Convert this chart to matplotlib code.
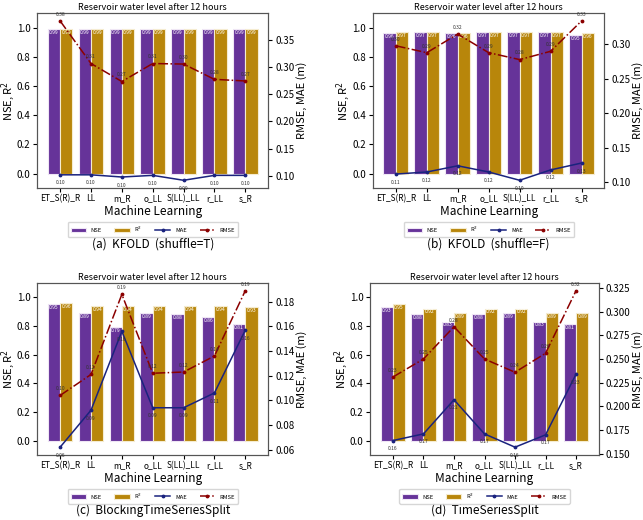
import matplotlib
matplotlib.use('Agg')
import matplotlib.pyplot as plt
import numpy as np

plt.rcParams['font.family'] = ['Noto Sans CJK KR', 'DejaVu Sans']
plt.rcParams['mathtext.fontset'] = 'dejavusans'

models = ['ET_S(R)_R', 'LL', 'm_R', 'o_LL', 'S(LL)_LL', 'r_LL', 's_R']

# (a) KFOLD shuffle=T
nse_a = [0.99, 0.99, 0.99, 0.99, 0.99, 0.99, 0.99]
r2_a = [0.99, 0.99, 0.99, 0.99, 0.99, 0.99, 0.99]
mae_a = [0.102, 0.102, 0.098, 0.101, 0.092, 0.101, 0.101]
rmse_a = [0.384, 0.306, 0.273, 0.306, 0.305, 0.277, 0.274]

# (b) KFOLD shuffle=F
nse_b = [0.96, 0.97, 0.96, 0.97, 0.97, 0.97, 0.95]
r2_b = [0.97, 0.97, 0.96, 0.97, 0.97, 0.97, 0.96]
mae_b = [0.112, 0.115, 0.124, 0.115, 0.103, 0.118, 0.128]
rmse_b = [0.298, 0.288, 0.315, 0.288, 0.278, 0.290, 0.334]

# (c) BlockingTimeSeriesSplit
nse_c = [0.95, 0.89, 0.79, 0.89, 0.88, 0.86, 0.81]
r2_c = [0.96, 0.94, 0.94, 0.94, 0.94, 0.94, 0.93]
mae_c = [0.062, 0.092, 0.156, 0.094, 0.094, 0.106, 0.157]
rmse_c = [0.104, 0.121, 0.186, 0.122, 0.123, 0.136, 0.189]

# (d) TimeSeriesSplit
nse_d = [0.93, 0.88, 0.83, 0.88, 0.89, 0.83, 0.81]
r2_d = [0.95, 0.92, 0.89, 0.92, 0.92, 0.89, 0.89]
mae_d = [0.164, 0.171, 0.207, 0.171, 0.157, 0.170, 0.234]
rmse_d = [0.231, 0.250, 0.284, 0.250, 0.236, 0.256, 0.322]

captions = ['(a)  KFOLD  (shuffle=T)', '(b)  KFOLD  (shuffle=F)',
            '(c)  BlockingTimeSeriesSplit', '(d)  TimeSeriesSplit']

purple = '#663399'
gold = '#B8860B'
navy = '#1a237e'
red = '#8B0000'

fig = plt.figure(figsize=(6.43, 5.2), dpi=100)

# axes boxes [left, bottom, width, height] in figure fraction
boxes = [
    [0.058, 0.638, 0.359, 0.337],
    [0.580, 0.638, 0.360, 0.337],
    [0.058, 0.125, 0.359, 0.331],
    [0.576, 0.125, 0.355, 0.331],
]
panels = [(nse_a, r2_a, mae_a, rmse_a), (nse_b, r2_b, mae_b, rmse_b),
          (nse_c, r2_c, mae_c, rmse_c), (nse_d, r2_d, mae_d, rmse_d)]

x = np.arange(len(models))
w = 0.4

for i, (box, (nse, r2, mae, rmse)) in enumerate(zip(boxes, panels)):
    ax = fig.add_axes(box)
    b1 = ax.bar(x - w / 2, nse, w, color=purple, edgecolor='#efe6f5', linewidth=0.8, label='NSE')
    b2 = ax.bar(x + w / 2, r2, w, color=gold, edgecolor='#f5ecd0', linewidth=0.8, label='R$^2$')
    for bars in (b1, b2):
        for rect in bars:
            h = rect.get_height()
            ax.text(rect.get_x() + rect.get_width() / 2, h - 0.005, f'{h:.2f}',
                    ha='center', va='top', fontsize=3.6, color='white')
    ax.set_ylim(-0.1, 1.1)
    ax.set_xticks(x)
    ax.set_xticklabels(models, fontsize=6)
    ax.tick_params(axis='y', labelsize=7, length=3, pad=2)
    ax.tick_params(axis='x', length=3, pad=1.5)
    ax.set_ylabel('NSE, R$^2$', fontsize=8, labelpad=0)
    ax.set_xlabel('Machine Learning', fontsize=8.5, labelpad=1)
    ax.set_title('Reservoir water level after 12 hours', fontsize=6.5, pad=2)

    ax2 = ax.twinx()
    l1, = ax2.plot(x, mae, color=navy, marker='.', markersize=3.5, linewidth=1.1, label='MAE')
    l2, = ax2.plot(x, rmse, color=red, marker='.', markersize=3.5, linewidth=1.1,
                   linestyle='-.', label='RMSE')
    for xi, v in zip(x, mae):
        ax2.annotate(f'{v:.2f}', (xi, v), xytext=(0, -4), textcoords='offset points',
                     ha='center', va='top', fontsize=3.6, color='#333333')
    for xi, v in zip(x, rmse):
        ax2.annotate(f'{v:.2f}', (xi, v), xytext=(0, 3), textcoords='offset points',
                     ha='center', va='bottom', fontsize=3.6, color='#333333')
    ax2.set_ylabel('RMSE, MAE (m)', fontsize=8, labelpad=1)
    ax2.tick_params(axis='y', labelsize=7, length=3, pad=2)

    for a in (ax, ax2):
        for s in a.spines.values():
            s.set_edgecolor('#555555')

    handles = [b1, b2, l1, l2]
    fig.legend(handles, [h.get_label() for h in handles], ncol=4, fontsize=4.2,
               loc='center', bbox_to_anchor=(box[0] + box[2] / 2, box[1] - 0.079),
               frameon=True, handlelength=2.6, columnspacing=2.2, borderpad=0.5)
    fig.text(box[0] + box[2] / 2, box[1] - 0.107, captions[i], ha='center', va='center',
             fontsize=8.5)

fig.savefig('out.png', dpi=100)
